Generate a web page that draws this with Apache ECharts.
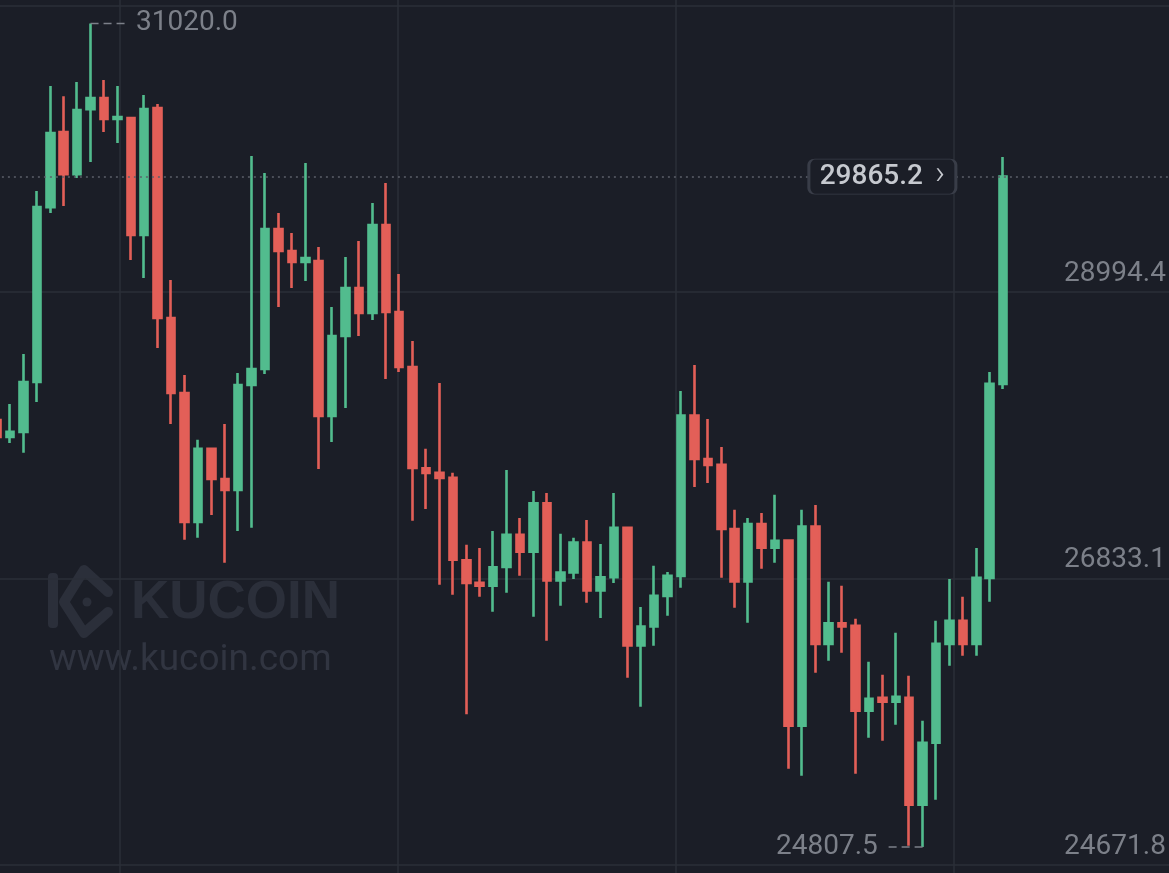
<!DOCTYPE html>
<html>
<head>
<meta charset="utf-8">
<script src="https://cdn.jsdelivr.net/npm/echarts@6/dist/echarts.min.js"></script>
<style>
  html, body { margin: 0; padding: 0; background: #1b1e27; }
  #chart { width: 1169px; height: 873px; }
</style>
</head>
<body>
<div id="chart"></div>
<script>
  // candles, left to right (the first one is cut by the left edge)
  const open  = [28029, 27901, 27939, 28316, 29635, 30201, 29884, 30374, 30457, 30299,
                 30306, 29424, 30382, 28798, 28233, 27260, 27811, 27584, 27502, 28293,
                 28414, 29469, 29304, 29221, 29228, 28060, 28663, 29025, 28836, 29500,
                 28844, 28429, 27664, 27630, 27592, 26970, 26800, 26778, 26921, 27162,
                 27036, 27401, 26818, 26878, 27104, 26742, 26843, 27215, 26328, 26471,
                 26702, 26853, 28062, 27735, 27690, 27207, 26810, 27243, 27066, 27119,
                 25722, 27225, 26340, 26496, 26476, 25835, 25933, 25903, 25933, 25126,
                 25594, 26340, 26514, 26340, 26838, 28301]
  const close = [27901, 27939, 28316, 29635, 30193, 29884, 30367, 30457, 30299, 30314,
                 29424, 30374, 28798, 28233, 27260, 27811, 27584, 27502, 28293, 28414,
                 29469, 29304, 29221, 29251, 28060, 28663, 29025, 28836, 29500, 28844,
                 28429, 27667, 27630, 27592, 26974, 26800, 26778, 26917, 27162, 27036,
                 27401, 26818, 26878, 27104, 26742, 26843, 27215, 26328, 26471, 26702,
                 26853, 28062, 27735, 27690, 27207, 26810, 27243, 27066, 27117, 25722,
                 27225, 26340, 26496, 26471, 25835, 25926, 25903, 25941, 25126, 25594,
                 26340, 26514, 26340, 26838, 28301, 29865.2]
  const low   = [27863, 27856, 27781, 28165, 29590, 29643, 29854, 29975, 30201, 30118,
                 29236, 29100, 28572, 27999, 27125, 27140, 27313, 26951, 27192, 27215,
                 28376, 28881, 29025, 29077, 27660, 27863, 28120, 28663, 28783, 28338,
                 28391, 27268, 27358, 26785, 26710, 25809, 26695, 26582, 26725, 26853,
                 26544, 26363, 26627, 26830, 26650, 26536, 26800, 26084, 25865, 26325,
                 26552, 26763, 27524, 27554, 26838, 26612, 26499, 26906, 26951, 25398,
                 25345, 26122, 26212, 26273, 25360, 25632, 25609, 25730, 24817, 24807.5,
                 25164, 26175, 26250, 26250, 26657, 28263]
  const high  = [28067, 28150, 28527, 29756, 30548, 30472, 30578, 31020, 30593, 30548,
                 30314, 30480, 30412, 29085, 28369, 27879, 27818, 27999, 28384, 30020,
                 29892, 29590, 29439, 29967, 29334, 28881, 29258, 29379, 29666, 29816,
                 29130, 28625, 27811, 28308, 27630, 27087, 27064, 27192, 27652, 27290,
                 27494, 27479, 27170, 27140, 27275, 27094, 27479, 27223, 26619, 26929,
                 26883, 28248, 28444, 28037, 27826, 27351, 27290, 27328, 27464, 27125,
                 27351, 27388, 26808, 26778, 26529, 26205, 26107, 26423, 26099, 25760,
                 26514, 26830, 26695, 27064, 28391, 30012]

  const slotCount = 88                       // candle slots across the full width (empty on the right)
  const categories = Array.from({ length: slotCount }, (_, i) => 'k' + i)

  const priceTicks = [24671.8, 26833.1, 28994.4, 31155.7]
  const priceLabels = [24671.8, 26833.1, 28994.4]
  const timeGridIdx = [9.14, 29.89, 50.63, 71.34]   // vertical grid lines, in candle-slot units

  const lastPrice = 29865.2
  const periodHigh = { idx: 7, value: 31020.0, tipIdx: 9.72 }
  const periodLow = { idx: 69, value: 24807.5, tipIdx: 66.33 }

  const upColor = '#52bc8e'
  const downColor = '#e35f58'
  const gridColor = '#2b2f39'
  const textColor = '#7c8089'
  const markColor = '#2b2f3a'

  const chart = echarts.init(document.getElementById('chart'))

  chart.setOption({
    backgroundColor: '#1b1e27',
    animation: false,
    textStyle: { fontFamily: 'Roboto' },
    grid: { left: -10.1, top: 0, width: 1181, height: 873, outerBoundsMode: 'none', containLabel: false },
    xAxis: [{
      type: 'category',
      data: categories,
      boundaryGap: true,
      axisLine: { show: false },
      axisTick: { show: false },
      axisLabel: { show: false },
      splitLine: { show: false }
    }, {
      type: 'value',
      min: -0.5,
      max: slotCount - 0.5,
      axisLine: { show: false },
      axisTick: { show: false, customValues: timeGridIdx },
      axisLabel: { show: false },
      splitLine: { show: true, lineStyle: { color: gridColor, width: 1.5 } }
    }],
    yAxis: {
      type: 'value',
      position: 'right',
      min: 24611.4,
      max: 31197.2,
      scale: true,
      axisLine: { show: false },
      axisTick: { show: false, customValues: priceTicks },
      splitLine: { show: true, lineStyle: { color: gridColor, width: 1.5 } },
      axisLabel: {
        inside: true,
        customValues: priceLabels,
        margin: 5,
        color: textColor,
        fontSize: 28,
        fontFamily: 'Roboto',
        verticalAlign: 'bottom',
        lineHeight: 28,
        padding: [0, 0, 4, 0],
        formatter: v => v.toFixed(1)
      }
    },
    graphic: [
      {
        type: 'group', z: 0, silent: true,
        children: [
          { type: 'rect', shape: { x: 48, y: 573, width: 10, height: 55, r: 4 },
            style: { fill: markColor } },
          { type: 'polyline', shape: { points: [[108, 592], [84, 570], [64, 602], [84, 633], [108, 612]] },
            style: { stroke: markColor, lineWidth: 10, fill: null, lineJoin: 'round', lineCap: 'round' } },
          { type: 'circle', shape: { cx: 87, cy: 602, r: 4.5 }, style: { fill: markColor } },
          { type: 'text', x: 131, y: 603,
            style: { text: 'KUCOIN', font: 'bold 53px "Liberation Sans"', fill: markColor,
                     textVerticalAlign: 'middle' } },
          { type: 'text', x: 49, y: 661,
            style: { text: 'www.kucoin.com', font: '37px Roboto', fill: '#313541',
                     textVerticalAlign: 'middle' } }
        ]
      }
    ],
    series: [{
      type: 'candlestick',
      name: 'price',
      data: open.map((o, i) => [o, close[i], low[i], high[i]]),
      barWidth: 8,
      itemStyle: {
        color: upColor,
        color0: downColor,
        borderColor: upColor,
        borderColor0: downColor,
        borderColorDoji: upColor,
        borderWidth: 2.6
      },
      markLine: {
        silent: true,
        symbol: 'none',
        z: 5,
        label: { show: false },
        lineStyle: { type: [2, 4], color: '#5c606a', width: 1.5 },
        data: [{ yAxis: lastPrice }]
      },
      markPoint: {
        silent: true,
        z: 10,
        symbol: 'path://M6,0 H141 A6,6 0 0 1 147,6 V29 A6,6 0 0 1 141,35 H6 A6,6 0 0 1 0,29 V6 A6,6 0 0 1 6,0 Z',
        symbolSize: [147, 35],
        symbolKeepAspect: false,
        itemStyle: { color: '#1b1e27', borderColor: '#393d48', borderWidth: 1.5 },
        label: {
          show: true,
          position: 'inside',
          formatter: '{v|' + lastPrice.toFixed(1) + '}{a|›}',
          rich: {
            v: { fontSize: 28, fontWeight: 500, color: '#c6c9cf', fontFamily: 'Roboto' },
            a: { fontSize: 34, fontWeight: 300, color: '#c6c9cf', fontFamily: 'Roboto', padding: [0, 0, 3, 12] }
          }
        },
        data: [{ coord: [categories[66], lastPrice] }]
      }
    }, {
      type: 'line',
      name: 'high',
      xAxisIndex: 1,
      silent: true,
      symbol: 'circle',
      symbolSize: 0,
      showSymbol: true,
      z: 3,
      lineStyle: { type: [8, 5], color: textColor, width: 1.5 },
      itemStyle: { color: textColor },
      data: [
        [periodHigh.idx, periodHigh.value],
        { value: [periodHigh.tipIdx, periodHigh.value],
          label: { show: true, position: 'right', distance: 9, color: textColor, fontSize: 28,
                   formatter: periodHigh.value.toFixed(1) } }
      ]
    }, {
      type: 'line',
      name: 'low',
      xAxisIndex: 1,
      silent: true,
      symbol: 'circle',
      symbolSize: 0,
      showSymbol: true,
      z: 3,
      lineStyle: { type: [8, 5], color: textColor, width: 1.5 },
      itemStyle: { color: textColor },
      data: [
        [periodLow.idx, periodLow.value],
        { value: [periodLow.tipIdx, periodLow.value],
          label: { show: true, position: 'left', distance: 9, color: textColor, fontSize: 28,
                   formatter: periodLow.value.toFixed(1) } }
      ]
    }]
  })
</script>
</body>
</html>
